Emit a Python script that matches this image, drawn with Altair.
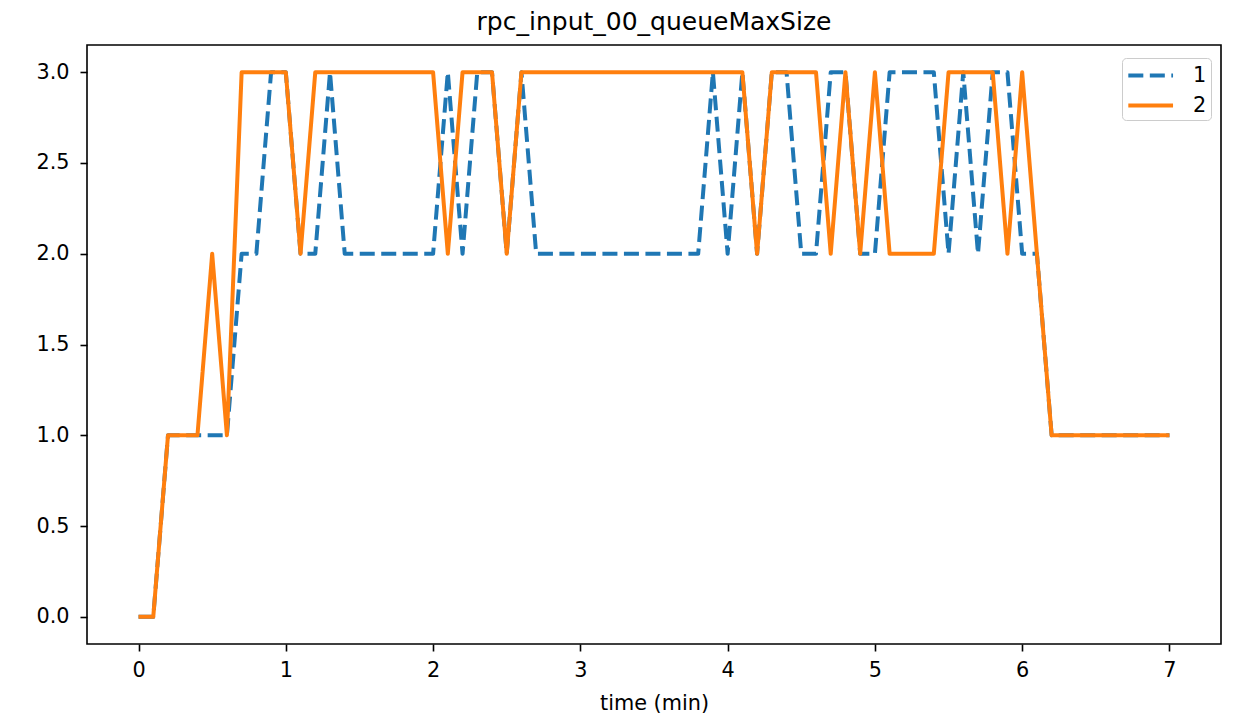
import altair as alt
import pandas as pd

times = [round(i * 0.1, 1) for i in range(71)]

series_1 = [0, 0, 1, 1, 1, 1, 1, 2, 2, 3,
            3, 2, 2, 3, 2, 2, 2, 2, 2, 2,
            2, 3, 2, 3, 3, 2, 3, 2, 2, 2,
            2, 2, 2, 2, 2, 2, 2, 2, 2, 3,
            2, 3, 2, 3, 3, 2, 2, 3, 3, 2,
            2, 3, 3, 3, 3, 2, 3, 2, 3, 3,
            2, 2, 1, 1, 1, 1, 1, 1, 1, 1, 1]

series_2 = [0, 0, 1, 1, 1, 2, 1, 3, 3, 3,
            3, 2, 3, 3, 3, 3, 3, 3, 3, 3,
            3, 2, 3, 3, 3, 2, 3, 3, 3, 3,
            3, 3, 3, 3, 3, 3, 3, 3, 3, 3,
            3, 3, 2, 3, 3, 3, 3, 2, 3, 2,
            3, 2, 2, 2, 2, 3, 3, 3, 3, 2,
            3, 2, 1, 1, 1, 1, 1, 1, 1, 1, 1]

series_names = ["1", "2"]
colors = ["#1f77b4", "#ff7f0e"]

rows = []
for name, vals in zip(series_names, [series_1, series_2]):
    for t, v in zip(times, vals):
        rows.append({"time": t, "value": v, "series": name})
df = pd.DataFrame(rows)

FONT = "DejaVu Sans"

chart = alt.Chart(df).mark_line(strokeWidth=4, strokeJoin="round").encode(
    x=alt.X("time:Q",
            scale=alt.Scale(domain=[-0.35, 7.35], nice=False, zero=False),
            axis=alt.Axis(title="time (min)", values=list(range(8)), format="d",
                          grid=False, domain=False, tickSize=7, tickWidth=1.6,
                          tickColor="black", labelPadding=9, titlePadding=14,
                          labelFontSize=20.8, titleFontSize=20.8,
                          titleFontWeight="normal", labelColor="black",
                          titleColor="black", labelFont=FONT, titleFont=FONT)),
    y=alt.Y("value:Q",
            scale=alt.Scale(domain=[-0.15, 3.15], nice=False, zero=False),
            axis=alt.Axis(title=None, values=[0, 0.5, 1, 1.5, 2, 2.5, 3], format=".1f",
                          grid=False, domain=False, tickSize=7, tickWidth=1.6,
                          tickColor="black", labelPadding=11,
                          labelFontSize=20.8, labelColor="black", labelFont=FONT)),
    color=alt.Color("series:N",
                    scale=alt.Scale(domain=series_names, range=colors),
                    legend=alt.Legend(title=None, orient="none", legendX=1035, legendY=13,
                                      symbolType="M-1,0H3", symbolSize=500,
                                      symbolStrokeWidth=4, labelFontSize=20.8,
                                      labelFont=FONT, labelColor="black",
                                      fillColor="white", strokeColor="#cccccc",
                                      cornerRadius=4, padding=4, rowPadding=6,
                                      labelOffset=40)),
    strokeDash=alt.StrokeDash("series:N",
                              scale=alt.Scale(domain=series_names,
                                              range=[[15, 6.5], [1, 0]]),
                              legend=None),
    order=alt.Order("time:Q"),
).properties(
    width=1134,
    height=599,
    title=alt.TitleParams("rpc_input_00_queueMaxSize", fontSize=25, font=FONT,
                          fontWeight="normal", color="black", anchor="middle",
                          offset=10),
    autosize=alt.AutoSizeParams(type="none"),
    padding={"left": 79, "top": 37, "right": 11, "bottom": 72},
).configure(
    background="white",
    view=alt.ViewConfig(stroke="black", strokeWidth=1.6),
)

chart.save("out.html", embed_options={"renderer": "svg", "actions": False})
